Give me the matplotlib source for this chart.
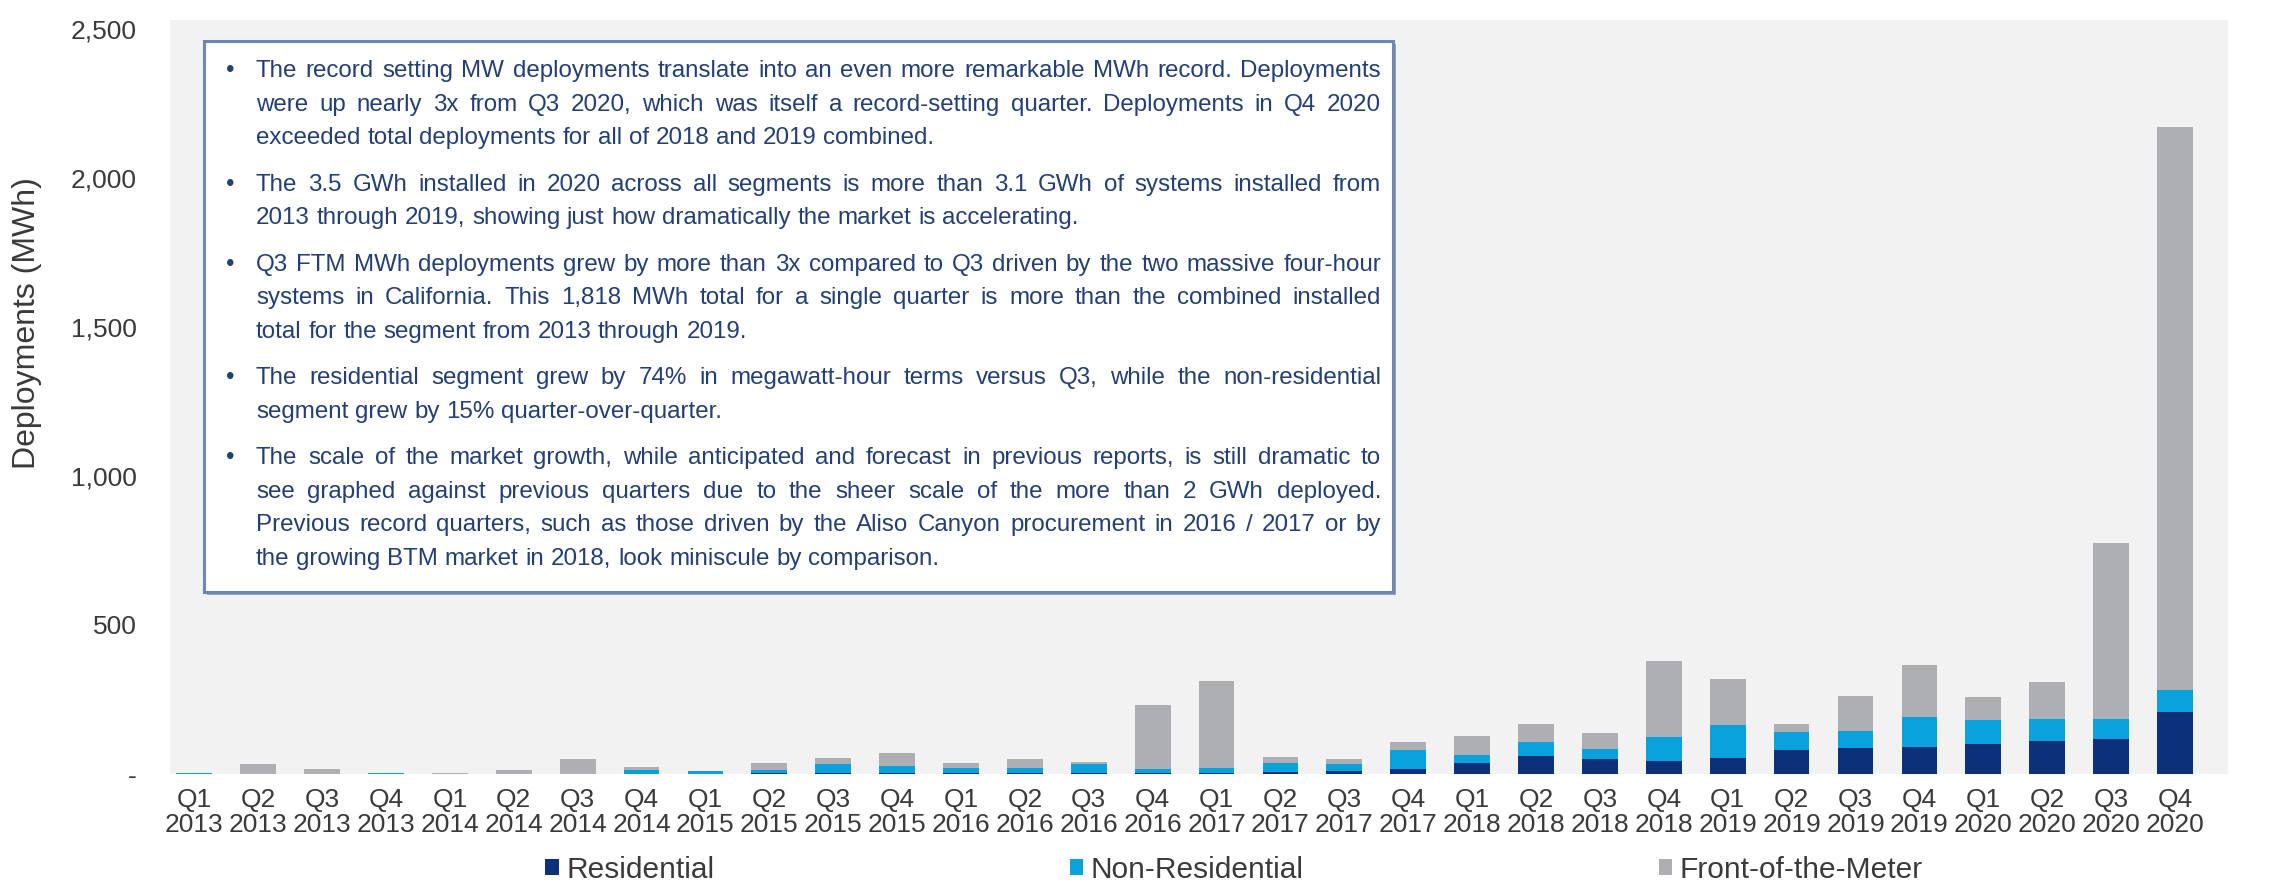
import matplotlib
matplotlib.use("Agg")
import matplotlib.pyplot as plt
from matplotlib.patches import Rectangle
import numpy as np

# ---------------- data ----------------
quarters = ["Q1", "Q2", "Q3", "Q4"]
years = [2013, 2014, 2015, 2016, 2017, 2018, 2019, 2020]
categories = [f"{q}\n{y}" for y in years for q in quarters]

residential = [0, 0, 0, 0, 0, 0, 0, 0,
               0, 2, 2, 2, 3, 3, 2, 2,
               3, 7, 10, 18, 36, 62, 49, 42,
               54, 79, 86, 92, 99, 110, 117, 207]
non_residential = [3, 0, 0, 3, 0, 0, 0, 13,
                   9, 13, 30, 25, 18, 18, 30, 14,
                   18, 31, 24, 63, 27, 47, 34, 81,
                   112, 61, 58, 99, 82, 74, 67, 75]
front_of_meter = [1, 32, 17, 2, 5, 12, 49, 11,
                  2, 22, 22, 44, 15, 28, 9, 216,
                  292, 19, 17, 28, 66, 60, 55, 255,
                  152, 29, 119, 175, 77, 125, 592, 1889]

series_names = ["Residential", "Non-Residential", "Front-of-the-Meter"]
series_colors = ["#0C3178", "#0AA2DD", "#AEAFB2"]

ytick_values = [0, 500, 1000, 1500, 2000, 2500]
ytick_labels = ["-", "500", "1,000", "1,500", "2,000", "2,500"]

bullets = [
    ["The record setting MW deployments translate into an even more remarkable MWh record. Deployments",
     "were up nearly 3x from Q3 2020, which was itself a record-setting quarter. Deployments in Q4 2020",
     "exceeded total deployments for all of 2018 and 2019 combined."],
    ["The 3.5 GWh installed in 2020 across all segments is more than 3.1 GWh of systems installed from",
     "2013 through 2019, showing just how dramatically the market is accelerating."],
    ["Q3 FTM MWh deployments grew by more than 3x compared to Q3 driven by the two massive four-hour",
     "systems in California. This 1,818 MWh total for a single quarter is more than the combined installed",
     "total for the segment from 2013 through 2019."],
    ["The residential segment grew by 74% in megawatt-hour terms versus Q3, while the non-residential",
     "segment grew by 15% quarter-over-quarter."],
    ["The scale of the market growth, while anticipated and forecast in previous reports, is still dramatic to",
     "see graphed against previous quarters due to the sheer scale of the more than 2 GWh deployed.",
     "Previous record quarters, such as those driven by the Aliso Canyon procurement in 2016 / 2017 or by",
     "the growing BTM market in 2018, look miniscule by comparison."],
]

# ---------------- figure ----------------
W, H = 2282, 890
plt.rcParams["font.family"] = ["Liberation Sans", "DejaVu Sans"]
fig = plt.figure(figsize=(W / 100, H / 100), dpi=100)
fig.patch.set_facecolor("white")

def fx(px):
    return px / W

def fy(py):
    return 1 - py / H

ax_left, ax_right, ax_top, ax_bot = 170, 2228, 20, 774
ax = fig.add_axes([fx(ax_left), fy(ax_bot), fx(ax_right - ax_left), (ax_bot - ax_top) / H])
ax.set_facecolor("#F2F2F2")

x = np.arange(len(categories))
bw = 0.56
res = np.array(residential, float)
nres = np.array(non_residential, float)
ftm = np.array(front_of_meter, float)
b1 = ax.bar(x, res, bw, color=series_colors[0], label=series_names[0], zorder=2)
b2 = ax.bar(x, nres, bw, bottom=res, color=series_colors[1], label=series_names[1], zorder=2)
b3 = ax.bar(x, ftm, bw, bottom=res + nres, color=series_colors[2], label=series_names[2], zorder=2)

tick_color = "#3A3A3A"
ax.set_xlim(-0.38, 31.83)
ax.set_ylim(0, 2530)
ax.set_xticks(x)
ax.set_xticklabels(categories, fontsize=19, color=tick_color, linespacing=1.07)
ax.set_yticks(ytick_values)
ax.set_yticklabels(ytick_labels, fontsize=19, color=tick_color)
ax.tick_params(axis="both", length=0)
ax.tick_params(axis="x", pad=10)
ax.tick_params(axis="y", pad=24)
for s in ax.spines.values():
    s.set_visible(False)

fig.text(fx(27), fy(323), "Deployments (MWh)", rotation=90, ha="center", va="center",
         fontsize=23, color=tick_color)

leg = fig.legend(handles=[b1, b2, b3], labels=series_names, loc="center",
                 bbox_to_anchor=(fx(1234), fy(870)), ncol=3, frameon=False,
                 fontsize=21.5, handlelength=0.45, handleheight=0.45,
                 handletextpad=0.25, columnspacing=11.9, labelcolor=tick_color,
                 borderpad=0, borderaxespad=0)

# ---------------- text box ----------------
box_l, box_r, box_t, box_b = 204, 1393, 41, 592
shadow = Rectangle((fx(box_l + 3), fy(box_b + 3)), fx(box_r - box_l), (box_b - box_t) / H,
                   transform=fig.transFigure, facecolor="#9AA3B5", edgecolor="none", zorder=4)
fig.add_artist(shadow)
box = Rectangle((fx(box_l), fy(box_b)), fx(box_r - box_l), (box_b - box_t) / H,
                transform=fig.transFigure, facecolor="white", edgecolor="#6D87B5",
                linewidth=2.2, zorder=5)
fig.add_artist(box)

text_color = "#233F73"
text_left, text_right = 256, 1381
bullet_x = 226
line_gap, para_gap = 33.5, 46.6

renderer = fig.canvas.get_renderer()

def natural_width(s, fs):
    t = fig.text(0, 0, s, fontsize=fs)
    w = t.get_window_extent(renderer).width
    t.remove()
    return w

fs0 = 10
maxw = max(natural_width(l, fs0) for b in bullets for l in b[:-1])
fs = fs0 * (text_right - text_left) / maxw * 0.985
space_w = natural_width("a a", fs) - natural_width("aa", fs)
cap_half = 0.36 * fs * 100 / 72

y = 68.4
for bi, para in enumerate(bullets):
    if bi > 0:
        y += para_gap - line_gap
    for li, line in enumerate(para):
        base = y + cap_half
        if li == 0:
            fig.text(fx(bullet_x), fy(base), "\u2022", fontsize=fs, color=text_color,
                     ha="left", va="baseline", zorder=6)
        words = line.split(" ")
        texts = [fig.text(0, fy(base), w_, fontsize=fs, color=text_color,
                          ha="left", va="baseline", zorder=6) for w_ in words]
        widths = [t.get_window_extent(renderer).width for t in texts]
        last = li == len(para) - 1
        if last or len(words) == 1:
            gap = space_w
        else:
            gap = (text_right - text_left - sum(widths)) / (len(words) - 1)
        cx = text_left
        for t, w_ in zip(texts, widths):
            t.set_x(fx(cx))
            cx += w_ + gap
        y += line_gap

fig.savefig("out.png", dpi=100, facecolor="white")
